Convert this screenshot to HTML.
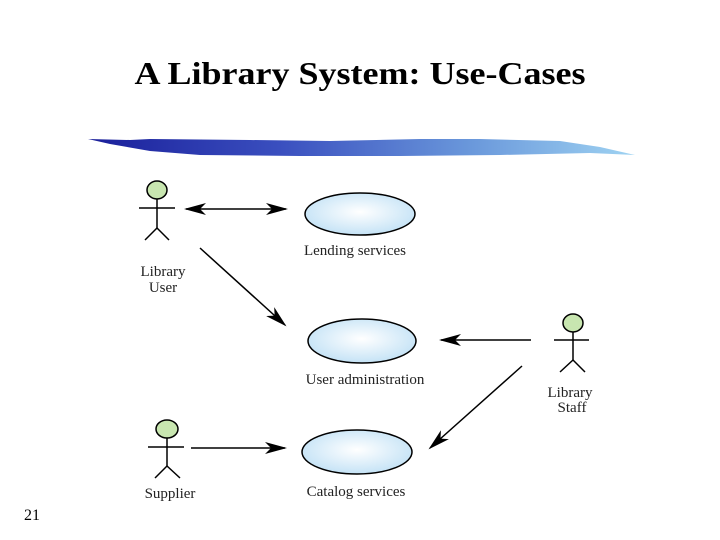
<!DOCTYPE html>
<html><head><meta charset="utf-8"><style>
html,body{margin:0;padding:0;background:#fff;}
svg{display:block;}
</style></head><body>
<svg width="720" height="540" viewBox="0 0 720 540" xmlns="http://www.w3.org/2000/svg">
<defs>
<linearGradient id="band" x1="0" y1="0" x2="1" y2="0">
<stop offset="0" stop-color="#1a1f9a"/>
<stop offset="0.35" stop-color="#3a4fbf"/>
<stop offset="0.7" stop-color="#6a98db"/>
<stop offset="1" stop-color="#9fd3f2"/>
</linearGradient>
<radialGradient id="ell" cx="0.5" cy="0.45" r="0.6">
<stop offset="0" stop-color="#ffffff"/>
<stop offset="1" stop-color="#bfe0f5"/>
</radialGradient>
<marker id="ah" markerWidth="22" markerHeight="12" refX="20" refY="6" orient="auto" markerUnits="userSpaceOnUse">
<path d="M0,0 L22,6 L0,12 L6,6 Z" fill="#000"/>
</marker>
<marker id="ahs" markerWidth="22" markerHeight="12" refX="2" refY="6" orient="auto" markerUnits="userSpaceOnUse">
<path d="M22,0 L0,6 L22,12 L16,6 Z" fill="#000"/>
</marker>
</defs>
<text x="360" y="84" text-anchor="middle" font-family="Liberation Serif, serif" font-weight="bold" font-size="32" textLength="451" lengthAdjust="spacingAndGlyphs">A Library System: Use-Cases</text>
<path d="M88,139 L130,140 L150,139 L250,140 L330,141 L420,139 L480,139 L560,141 L600,147 L635,155 L590,153 L500,155 L400,156 L300,156 L200,155 L150,151 L110,144 Z" fill="url(#band)"/>
<g stroke="#000" stroke-width="1.5" fill="none">
<ellipse cx="360" cy="214" rx="55" ry="21" fill="url(#ell)"/>
<ellipse cx="362" cy="341" rx="54" ry="22" fill="url(#ell)"/>
<ellipse cx="357" cy="452" rx="55" ry="22" fill="url(#ell)"/>
<!-- Library User -->
<ellipse cx="157" cy="190" rx="10" ry="9" fill="#c8e6b0"/>
<line x1="157" y1="199" x2="157" y2="228"/>
<line x1="139" y1="208" x2="175" y2="208"/>
<line x1="157" y1="228" x2="145" y2="240"/>
<line x1="157" y1="228" x2="169" y2="240"/>
<!-- Staff -->
<ellipse cx="573" cy="323" rx="10" ry="9" fill="#c8e6b0"/>
<line x1="573" y1="332" x2="573" y2="360"/>
<line x1="554" y1="340" x2="589" y2="340"/>
<line x1="573" y1="360" x2="560" y2="372"/>
<line x1="573" y1="360" x2="585" y2="372"/>
<!-- Supplier -->
<ellipse cx="167" cy="429" rx="11" ry="9" fill="#c8e6b0"/>
<line x1="167" y1="438" x2="167" y2="466"/>
<line x1="148" y1="447" x2="184" y2="447"/>
<line x1="167" y1="466" x2="155" y2="478"/>
<line x1="167" y1="466" x2="180" y2="478"/>
<!-- arrows -->
<line x1="186" y1="209" x2="286" y2="209" marker-start="url(#ahs)" marker-end="url(#ah)"/>
<line x1="200" y1="248" x2="285" y2="325" marker-end="url(#ah)"/>
<line x1="531" y1="340" x2="441" y2="340" marker-end="url(#ah)"/>
<line x1="522" y1="366" x2="430" y2="448" marker-end="url(#ah)"/>
<line x1="191" y1="448" x2="285" y2="448" marker-end="url(#ah)"/>
</g>
<g font-family="Liberation Serif, serif" font-size="15" text-anchor="middle" fill="#222">
<text x="355" y="255">Lending services</text>
<text x="365" y="384">User administration</text>
<text x="356" y="496">Catalog services</text>
<text x="163" y="276">Library</text>
<text x="163" y="292">User</text>
<text x="570" y="397">Library</text>
<text x="572" y="412">Staff</text>
<text x="170" y="498">Supplier</text>
</g>
<text x="32" y="520" text-anchor="middle" font-family="Liberation Serif, serif" font-size="16">21</text>
</svg>
</body></html>
